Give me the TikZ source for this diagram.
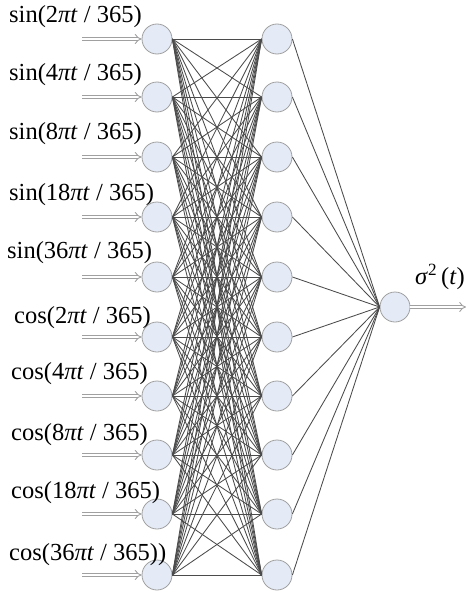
\documentclass[tikz,border=0pt]{standalone}
\usepackage{fontspec}
\setmainfont{Liberation Serif}
\usetikzlibrary{arrows.meta}
\definecolor{nodefill}{RGB}{228,235,246}
\definecolor{nodeline}{RGB}{160,160,160}
\definecolor{linkgray}{RGB}{75,75,75}

\begin{document}
\begin{tikzpicture}[x=1pt, y=-1pt,
  every node/.style={inner sep=0pt},
  neuron/.style={draw=nodeline, circle, fill=nodefill, line width=0.8pt, minimum size=30pt},
  inlabel/.style={anchor=west, font=\fontsize{24.5}{24.5}\selectfont},
  inarrow/.style={draw=nodeline, line width=0.9pt, double=white, double distance=2.6pt, -{Implies}},
  link/.style={draw=linkgray, line width=0.85pt}]
\useasboundingbox (0,0) rectangle (468,597);
% input layer
\node[neuron] (L1N1) at (157,39) {};
\node[neuron] (L1N2) at (157,97) {};
\node[neuron] (L1N3) at (157,157) {};
\node[neuron] (L1N4) at (157,217) {};
\node[neuron] (L1N5) at (157,277) {};
\node[neuron] (L1N6) at (157,337) {};
\node[neuron] (L1N7) at (157,396) {};
\node[neuron] (L1N8) at (157,455) {};
\node[neuron] (L1N9) at (157,514) {};
\node[neuron] (L1N10) at (157,575) {};
% hidden layer
\node[neuron] (L2N1) at (277,39) {};
\node[neuron] (L2N2) at (277,97) {};
\node[neuron] (L2N3) at (277,157) {};
\node[neuron] (L2N4) at (277,217) {};
\node[neuron] (L2N5) at (277,277) {};
\node[neuron] (L2N6) at (277,337) {};
\node[neuron] (L2N7) at (277,396) {};
\node[neuron] (L2N8) at (277,455) {};
\node[neuron] (L2N9) at (277,514) {};
\node[neuron] (L2N10) at (277,575) {};
% output layer
\node[neuron] (L3N1) at (395,307) {};
% input texts
\node[inlabel] (T1) at (9,17) {sin(2\textit{πt} / 365)};
\node[inlabel] (T2) at (9,75) {sin(4\textit{πt} / 365)};
\node[inlabel] (T3) at (9,134) {sin(8\textit{πt} / 365)};
\node[inlabel] (T4) at (9,195) {sin(18\textit{πt} / 365)};
\node[inlabel] (T5) at (7,253) {sin(36\textit{πt} / 365)};
\node[inlabel] (T6) at (14,318) {cos(2\textit{πt} / 365)};
\node[inlabel] (T7) at (11,374) {cos(4\textit{πt} / 365)};
\node[inlabel] (T8) at (11,435) {cos(8\textit{πt} / 365)};
\node[inlabel] (T9) at (11,493) {cos(18\textit{πt} / 365)};
\node[inlabel] (T10) at (9,555) {cos(36\textit{πt} / 365))};
\node[inlabel, anchor=center] (TOut) at (440,277) {\textit{σ}\textsuperscript{2}\,(\textit{t})};
% arrows
\foreach \i/\y in {1/39,2/97,3/157,4/217,5/277,6/337,7/396,8/455,9/514,10/575}
  \coordinate (A\i) at (82,\y);
\foreach \i in {1,...,10}
  \draw[inarrow] (A\i) -- (L1N\i.west);
\coordinate (AOut) at (466,307);
\draw[inarrow] (L3N1.east) -- (AOut);
% links
\foreach \i in {1,...,10}
  \foreach \j in {1,...,10}
    \draw[link] (L1N\i.east) -- (L2N\j.west);
\foreach \j in {1,...,10}
  \draw[link] (L2N\j.east) -- (L3N1.west);
\end{tikzpicture}
\end{document}
